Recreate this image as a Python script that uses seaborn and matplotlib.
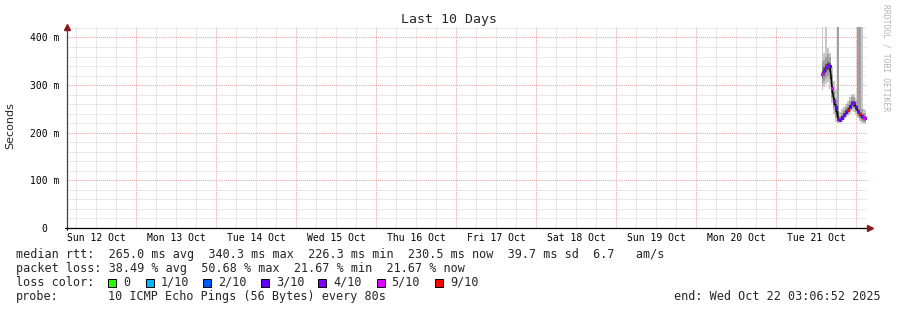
import numpy as np
import pandas as pd
import matplotlib
matplotlib.use("Agg")
import matplotlib.pyplot as plt
import matplotlib.dates as mdates
from matplotlib.patches import Rectangle
import seaborn as sns

# ---------------- data ----------------
times = ["2025-10-21 13:48", "2025-10-21 14:24", "2025-10-21 15:00", "2025-10-21 15:36",
         "2025-10-21 16:12", "2025-10-21 16:48", "2025-10-21 17:24", "2025-10-21 18:00",
         "2025-10-21 18:36", "2025-10-21 19:12", "2025-10-21 19:48", "2025-10-21 20:24",
         "2025-10-21 21:00", "2025-10-21 21:36", "2025-10-21 22:12", "2025-10-21 22:48",
         "2025-10-21 23:24", "2025-10-22 00:00", "2025-10-22 00:36", "2025-10-22 01:12",
         "2025-10-22 01:48", "2025-10-22 02:24", "2025-10-22 03:00"]
median_ms = [322, 328, 336, 340.3, 339, 292, 266, 252, 228, 226.3, 231, 237,
             242, 247, 254, 261, 261, 253, 244, 238, 234, 231, 230.5]
loss_tenths = [5, 4, 4, 4, 3, 5, 4, 3, 4, 4, 3, 4, 3, 9, 3, 4, 4, 3, 4, 9, 3, 5, 4]
# smoke bands (ms): light outer, mid, dark core
smoke_lo1 = [290, 296, 302, 306, 292, 262, 240, 222, 220, 220, 223, 227, 231, 235, 240, 245, 244, 238, 230, 224, 220, 218, 218]
smoke_hi1 = [450, 368, 450, 378, 368, 338, 308, 292, 450, 243, 249, 255, 261, 267, 275, 281, 281, 273, 450, 450, 450, 249, 247]
smoke_lo2 = [302, 308, 315, 320, 312, 272, 250, 230, 223, 223, 226, 231, 235, 240, 246, 252, 251, 244, 235, 229, 225, 223, 222]
smoke_hi2 = [348, 353, 360, 365, 358, 322, 288, 273, 450, 236, 242, 248, 254, 260, 267, 274, 274, 266, 450, 450, 250, 242, 240]
smoke_lo3 = [314, 319, 327, 331, 328, 283, 259, 243, 224, 224, 228, 233, 238, 243, 249, 256, 255, 248, 239, 233, 229, 226, 225]
smoke_hi3 = [331, 337, 345, 349, 347, 301, 273, 261, 246, 231, 236, 242, 247, 252, 259, 267, 267, 258, 250, 244, 239, 236, 235]

loss_levels = ["0", "1/10", "2/10", "3/10", "4/10", "5/10", "9/10"]
loss_colors = ["#26ff00", "#00b8ff", "#0059ff", "#5e00ff", "#7e00ff", "#dd00ff", "#ff0000"]
day_labels = ["Sun 12 Oct", "Mon 13 Oct", "Tue 14 Oct", "Wed 15 Oct", "Thu 16 Oct",
              "Fri 17 Oct", "Sat 18 Oct", "Sun 19 Oct", "Mon 20 Oct", "Tue 21 Oct"]
y_ticks = [0, 0.1, 0.2, 0.3, 0.4]
y_tick_labels = ["0", "100 m", "200 m", "300 m", "400 m"]
legend_lines = [
    "median rtt:  265.0 ms avg  340.3 ms max  226.3 ms min  230.5 ms now  39.7 ms sd  6.7   am/s",
    "packet loss: 38.49 % avg  50.68 % max  21.67 % min  21.67 % now",
]
probe_text = "10 ICMP Echo Pings (56 Bytes) every 80s"
end_text = "end: Wed Oct 22 03:06:52 2025"
start_time = "2025-10-12 03:06:52"
end_time = "2025-10-22 03:06:52"

# ---------------- build frame ----------------
df = pd.DataFrame({
    "time": pd.to_datetime(times),
    "median": np.array(median_ms) / 1000.0,
    "loss": [f"{l}/10" if l else "0" for l in loss_tenths],
})
for name, arr in [("lo1", smoke_lo1), ("hi1", smoke_hi1), ("lo2", smoke_lo2),
                  ("hi2", smoke_hi2), ("lo3", smoke_lo3), ("hi3", smoke_hi3)]:
    df[name] = np.array(arr) / 1000.0

sns.set_style("white")
plt.rcParams["font.family"] = ["DejaVu Sans Mono", "DejaVu Sans"]

W, H = 897, 310
fig = plt.figure(figsize=(W / 100, H / 100), dpi=100, facecolor="white")
ax_l, ax_r, ax_t, ax_b = 66.5, 866.5, 27, 228
ax = fig.add_axes([ax_l / W, 1 - ax_b / H, (ax_r - ax_l) / W, (ax_b - ax_t) / H])
ax.set_facecolor("white")

t0 = pd.Timestamp(start_time)
t1 = pd.Timestamp(end_time)
ax.set_xlim(t0, t1)
ax.set_ylim(0, 0.422)

# grid (dotted): gray minor grid, red major grid on top
ax.set_axisbelow(True)
minor_grid = dict(color="#d4d4d4", linestyle=(0, (1, 1)), linewidth=0.72)
major_grid = dict(color="#eaa6a6", linestyle=(0, (1, 1)), linewidth=0.75)
ax.set_yticks(y_ticks)
ax.set_yticklabels(y_tick_labels)
minor_y = [v / 1000 for v in range(20, 421, 20) if v % 100]
ax.yaxis.set_minor_locator(matplotlib.ticker.FixedLocator(minor_y))
ax.yaxis.grid(True, which="minor", **minor_grid)
for yv in y_ticks[1:]:
    ax.axhline(yv, zorder=0.6, **major_grid)

noons = pd.date_range("2025-10-12 12:00", periods=len(day_labels), freq="D")
ax.set_xticks(noons)
ax.set_xticklabels(day_labels)
ax.xaxis.set_minor_locator(mdates.HourLocator(byhour=[6, 12, 18]))
ax.xaxis.grid(True, which="both", **minor_grid)
for m in pd.date_range("2025-10-13", "2025-10-22", freq="D"):
    ax.axvline(m, zorder=0.6, **major_grid)

# smoke
ax.fill_between(df["time"], df["lo1"], df["hi1"], step="mid", color="#c8c8c8", lw=0, zorder=2)
ax.fill_between(df["time"], df["lo2"], df["hi2"], step="mid", color="#a0a0a0", lw=0, zorder=2.1)
ax.fill_between(df["time"], df["lo3"], df["hi3"], step="mid", color="#5e5e5e", lw=0, zorder=2.2)

# median line + loss colors
sns.lineplot(data=df, x="time", y="median", color="black", lw=1.1, ax=ax, zorder=3)
palette = dict(zip(loss_levels, loss_colors))
sns.scatterplot(data=df, x="time", y="median", hue="loss", palette=palette, marker="s",
                s=5, linewidth=0, legend=False, ax=ax, zorder=4)

ax.set_xlabel("")
ax.set_ylabel("")

# spines / ticks
for s in ["top", "right", "left", "bottom"]:
    ax.spines[s].set_visible(False)
ax.tick_params(axis="x", which="both", length=0, pad=3.5, labelsize=7, colors="black")
ax.tick_params(axis="y", which="both", length=0, pad=16, labelsize=7, colors="black")
for lab in ax.get_yticklabels():
    lab.set_horizontalalignment("center")

# axis lines with arrows
ax.plot([0, 0], [-0.01, 1.0], color="#404040", lw=0.9, transform=ax.transAxes, clip_on=False,
        zorder=5)
ax.plot([-0.0025, 1.003], [0, 0], color="black", lw=0.9, transform=ax.transAxes, clip_on=False,
        zorder=5)
ax.plot([0], [1.0], marker="^", color="#8b1a1a", markersize=4, transform=ax.transAxes,
        clip_on=False, zorder=6)
ax.plot([1.004], [0], marker=">", color="#8b1a1a", markersize=4, transform=ax.transAxes,
        clip_on=False, zorder=6)

# texts
fig.text(0.5, 1 - 19 / H, "Last 10 Days", ha="center", va="center", fontsize=9.5,
         family="DejaVu Sans Mono")
fig.text(10.5 / W, 1 - 126 / H, "Seconds", rotation=90, ha="center", va="center",
         fontsize=8, family="DejaVu Sans")
fig.text(886 / W, 1 - 4 / H, "RRDTOOL / TOBI OETIKER", rotation=270, ha="center", va="top",
         fontsize=5.8, color="#b4b4b4", family="DejaVu Sans Mono")

fs = 8.5
fig.text(16 / W, 1 - 254.3 / H, legend_lines[0], ha="left", va="center", fontsize=fs)
fig.text(16 / W, 1 - 268.3 / H, legend_lines[1], ha="left", va="center", fontsize=fs)
fig.text(16 / W, 1 - 282.3 / H, "loss color:", ha="left", va="center", fontsize=fs)
box_x = [108, 145.5, 203, 261, 318, 376.5, 435]
for bx, lab, col in zip(box_x, loss_levels, loss_colors):
    fig.patches.append(Rectangle((bx / W, 1 - 286.5 / H), 8 / W, 8 / H, transform=fig.transFigure,
                                 facecolor=col, edgecolor="black", linewidth=0.7))
    fig.text((bx + 15) / W, 1 - 282.3 / H, lab, ha="left", va="center", fontsize=fs)
fig.text(16 / W, 1 - 296.7 / H, "probe:", ha="left", va="center", fontsize=fs)
fig.text(108 / W, 1 - 296.7 / H, probe_text, ha="left", va="center", fontsize=fs)
fig.text(881 / W, 1 - 296.7 / H, end_text, ha="right", va="center", fontsize=fs)

fig.savefig("out.png", dpi=100, facecolor="white")
